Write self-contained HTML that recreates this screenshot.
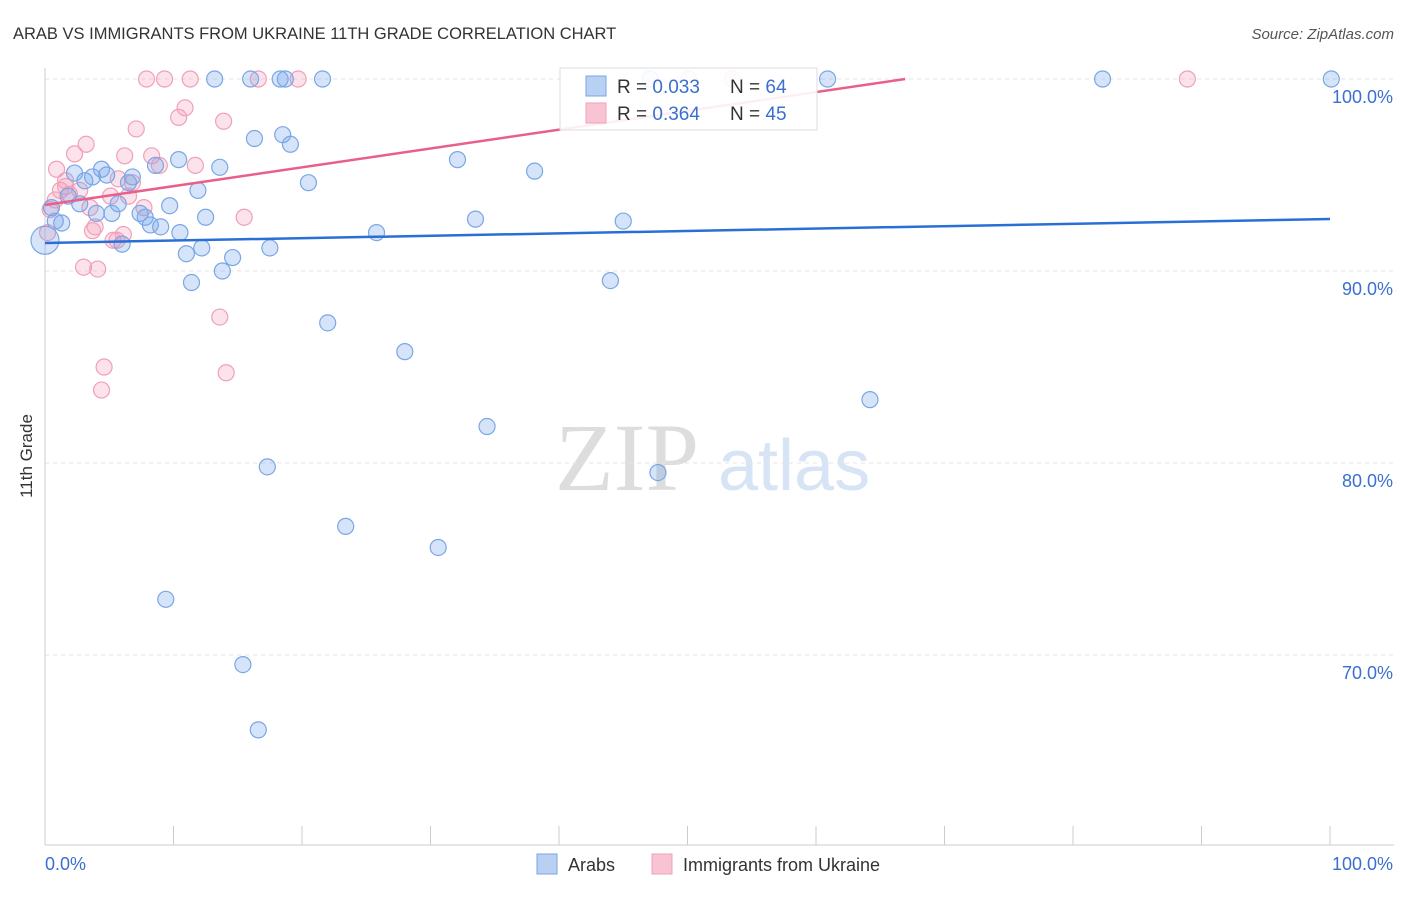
<!DOCTYPE html>
<html><head><meta charset="utf-8"><style>
body{margin:0;background:#fff;font-family:"Liberation Sans",sans-serif;}
svg text{font-family:"Liberation Sans",sans-serif;}
</style></head><body>
<svg id="chart" width="1406" height="892">
<text x="13" y="39" font-size="16.5" fill="#333">ARAB VS IMMIGRANTS FROM UKRAINE 11TH GRADE CORRELATION CHART</text>
<text x="1394" y="39" font-size="15" fill="#555" text-anchor="end" font-style="italic">Source: ZipAtlas.com</text>
<text x="32" y="456" font-size="17" fill="#333" text-anchor="middle" transform="rotate(-90 32 456)">11th Grade</text>
<g><text x="555" y="490" font-size="96" fill="#ddd" style="font-family:'Liberation Serif',serif">ZIP</text><text x="718" y="490" font-size="72" fill="#d6e4f5">atlas</text></g>
<g id="grid"></g><g id="axes"></g><g id="pts"></g><g id="lines"></g>
<g>
<rect x="560" y="68" width="257" height="62" fill="#fff" fill-opacity="0.9" stroke="#ddd"/>
<rect x="586" y="76" width="20" height="20" fill="#b8d0f2" stroke="#7aa6e6"/>
<text x="617" y="93" font-size="19" fill="#333">R = <tspan fill="#3a6fd0">0.033</tspan></text>
<text x="730" y="93" font-size="19" fill="#333">N = <tspan fill="#3a6fd0">64</tspan></text>
<rect x="586" y="103" width="20" height="20" fill="#f8c4d4" stroke="#f0a0b8"/>
<text x="617" y="120" font-size="19" fill="#333">R = <tspan fill="#3a6fd0">0.364</tspan></text>
<text x="730" y="120" font-size="19" fill="#333">N = <tspan fill="#3a6fd0">45</tspan></text>
</g>
<g>
<rect x="537" y="854" width="20" height="20" fill="#b8d0f2" stroke="#7aa6e6"/>
<text x="568" y="871" font-size="18" fill="#333">Arabs</text>
<rect x="652" y="854" width="20" height="20" fill="#f8c4d4" stroke="#f0a0b8"/>
<text x="683" y="871" font-size="18" fill="#333">Immigrants from Ukraine</text>
</g>
</svg>
<script>
const yTicks=[100,90,80,70];
const xLabels=["0.0%","100.0%"];
const arabsX=[0,0.8,1.3,2.3,3.1,3.7,4.4,4.8,5.2,5.7,6.0,6.5,6.8,7.4,7.8,8.2,8.6,9.0,9.7,10.4,10.5,11.0,11.4,11.9,12.2,12.5,13.2,13.6,13.8,14.6,15.4,16.0,16.3,16.6,17.3,17.5,18.3,18.5,18.7,19.1,20.5,21.6,22.0,23.4,25.8,28.0,30.6,32.1,33.5,34.4,38.1,44.0,45.0,47.1,47.7,60.9,64.2,82.3,100.1,9.4,0.5,1.8,2.7,4.0];
const arabsY=[91.6,92.6,92.5,95.1,94.7,94.9,95.3,95.0,93.0,93.5,91.4,94.6,94.9,93.0,92.8,92.4,95.5,92.3,93.4,95.8,92.0,90.9,89.4,94.2,91.2,92.8,100,95.4,90.0,90.7,69.5,100,96.9,66.1,79.8,91.2,100,97.1,100,96.6,94.6,100,87.3,76.7,92.0,85.8,75.6,95.8,92.7,81.9,95.2,89.5,92.6,100,79.5,100,83.3,100,100,72.9,93.3,93.9,93.5,93.0];
const ukrX=[0.9,1.2,1.6,1.9,2.3,2.7,3.0,3.2,3.5,3.9,4.1,4.6,4.4,5.1,5.3,5.7,6.1,6.2,6.5,6.8,7.1,7.7,7.9,8.3,8.9,9.3,10.4,10.9,11.3,11.7,13.6,13.9,14.1,15.5,16.6,19.7,50.1,53.5,88.9,0.4,0.8,0.2,1.6,3.7,5.6];
const ukrY=[95.3,94.2,94.7,94.0,96.1,94.2,90.2,96.6,93.3,92.3,90.1,85.0,83.8,93.9,91.6,94.8,91.9,96.0,93.9,94.6,97.4,93.3,100,96.0,95.5,100,98.0,98.5,100,95.5,87.6,97.8,84.7,92.8,100,100,100,100,100,93.2,93.7,92.0,94.4,92.1,91.6];
const blueLine=[91.46,92.71];
const pinkIntercept=93.44, pinkSlope=0.098;
const X=v=>45+v*12.85, Y=v=>79+(100-v)*19.2;
const NS="http://www.w3.org/2000/svg";
function mk(t,a,p){const e=document.createElementNS(NS,t);for(const k in a)e.setAttribute(k,a[k]);p.appendChild(e);return e;}
const grid=document.getElementById('grid'),axes=document.getElementById('axes'),pts=document.getElementById('pts'),lines=document.getElementById('lines');
yTicks.forEach(t=>{
 const l=mk('line',{x1:45,x2:1394,y1:Y(t),y2:Y(t),stroke:'#e4e4e4','stroke-dasharray':'4,4'},grid);
 
 
 const tx=mk('text',{x:1393,y:Y(t)+24,'font-size':18,fill:'#3a6fd0','text-anchor':'end'},axes);
 tx.textContent=t.toFixed(1)+'%';
 
 
});
const ax=mk('line',{x1:45,x2:45,y1:68,y2:845,stroke:'#ccc'},axes);


const bx=mk('line',{x1:45,x2:1394,y1:845,y2:845,stroke:'#ccc'},axes);


for(let i=0;i<=10;i++){const tk=mk('line',{x1:X(i*10),x2:X(i*10),y1:826,y2:845,stroke:'#ccc'},axes);
 
 }
[[0,'start',45],[1,'end',1393]].forEach(([i,a,x])=>{const t=mk('text',{x:x,y:870,'font-size':18,fill:'#3a6fd0','text-anchor':a},axes);t.textContent=xLabels[i];
 
 });
ukrX.forEach((x,i)=>{const c=mk('circle',{cx:X(x),cy:Y(ukrY[i]),r:8,fill:'rgba(244,160,186,0.3)',stroke:'#f0a0b8','stroke-width':1.2},pts);
 
 });
arabsX.forEach((x,i)=>{const c=mk('circle',{cx:X(x),cy:Y(arabsY[i]),r:i==0?14:8,fill:'rgba(120,165,235,0.3)',stroke:'#7aa6e6','stroke-width':1.2},pts);
 
 });
const bl=mk('line',{x1:X(0),y1:Y(blueLine[0]),x2:X(100),y2:Y(blueLine[1]),stroke:'#2a6fd6','stroke-width':2.5},lines);


const xe=Math.min(100,(100-pinkIntercept)/pinkSlope);
const pl=mk('line',{x1:X(0),y1:Y(pinkIntercept),x2:X(xe),y2:Y(pinkIntercept+pinkSlope*xe),stroke:'#e8608a','stroke-width':2.5},lines);


</script>
</body></html>
